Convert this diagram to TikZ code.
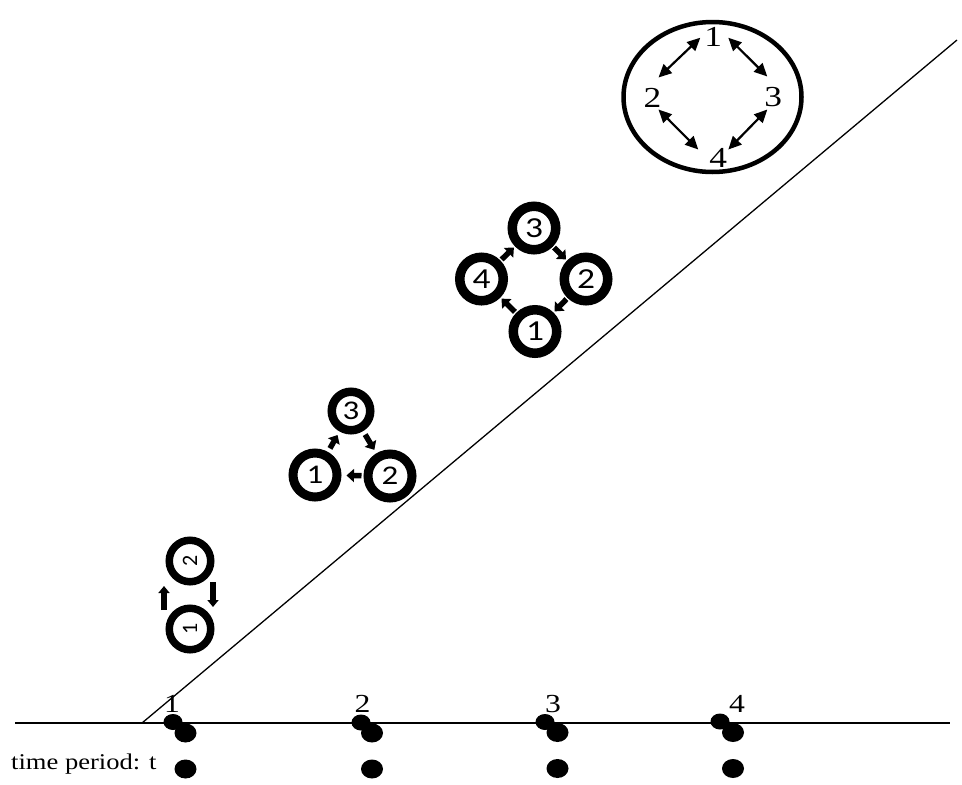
\documentclass[tikz,border=0pt]{standalone}
\usepackage{fontspec}
\setmainfont{Liberation Serif}
\newfontfamily\calibfont{Carlito}
\usetikzlibrary{arrows.meta,shapes.geometric,calc}
% horizontally widened glyphs
\newcommand\hstretch[1]{\scalebox{1.22}[1]{#1}}

\begin{document}
\begin{tikzpicture}[x=1pt,y=-1pt,
  axisline/.style={line width=1.3pt},
  tickdot/.style={ellipse, fill=black, inner sep=0pt},
  dotsmall/.style={tickdot, minimum width=19pt, minimum height=16pt},
  dotbig/.style={tickdot, minimum width=22pt, minimum height=19pt},
  ticklabel/.style={font=\fontsize{26}{28}\selectfont, inner sep=0pt},
  ring/.style={circle, draw, inner sep=0pt},
  ringone/.style={ring, line width=7.5pt, minimum size=41.5pt, font=\calibfont\fontsize{22}{24}\selectfont},
  ringtwo/.style={ring, line width=9pt, minimum size=44pt, font=\calibfont\fontsize{27}{29}\selectfont},
  ringtwotop/.style={ring, line width=8.5pt, minimum size=38.5pt, font=\calibfont\fontsize{27}{29}\selectfont},
  ringthree/.style={ring, line width=9.5pt, minimum size=43.5pt, font=\calibfont\fontsize{29}{31}\selectfont},
  blockarr/.style={line width=5.5pt, -{Triangle[width=13pt,length=7.5pt]}},
  slimblockarr/.style={line width=6pt, -{Triangle[width=11pt,length=7pt]}},
  biglabel/.style={font=\fontsize{29}{31}\selectfont, inner sep=0pt},
  dblarr/.style={line width=2.2pt, {Triangle[length=13pt,width=12pt]}-{Triangle[length=13pt,width=12pt]}}
]
\useasboundingbox (0,0) rectangle (962,785);

% time axis and growth line
\coordinate (axL) at (15,723);
\coordinate (axR) at (950,723);
\coordinate (dgA) at (142,723);
\coordinate (dgB) at (957,40);
\draw[axisline] (axL) -- (axR);
\draw[axisline] (dgA) -- (dgB);

% period labels
\node[ticklabel] (t1) at (172,704) {\hstretch{1}};
\node[ticklabel] (t2) at (362.5,703.5) {\hstretch{2}};
\node[ticklabel] (t3) at (553,704) {\hstretch{3}};
\node[ticklabel] (t4) at (737,704) {\hstretch{4}};

% period markers
\node[dotsmall] (d1a) at (173,722) {};
\node[dotbig]   (d1b) at (185.5,733) {};
\node[dotbig]   (d1c) at (185.5,769) {};
\node[dotsmall] (d2a) at (361,722.5) {};
\node[dotbig]   (d2b) at (372,733) {};
\node[dotbig]   (d2c) at (372,769) {};
\node[dotsmall] (d3a) at (545,722) {};
\node[dotbig]   (d3b) at (557.5,732.5) {};
\node[dotbig]   (d3c) at (557.5,768.5) {};
\node[dotsmall] (d4a) at (720,721.5) {};
\node[dotbig]   (d4b) at (733,732.5) {};
\node[dotbig]   (d4c) at (733,768.5) {};

\node[anchor=base west, inner sep=0pt, font=\fontsize{22.5}{25}\selectfont] (tlabel) at (11,769) {\scalebox{1.18}[1]{time period: t}};

% two members
\node[ringone] (g1c2) at (190,561) {\rotatebox{90}{2}};
\node[ringone] (g1c1) at (190,629) {\rotatebox{90}{1}};
\draw[slimblockarr] ([shift={(-26,-19)}]g1c1.center) -- ([shift={(-26,25)}]g1c2.center);
\draw[slimblockarr] ([shift={(23,21)}]g1c2.center) -- ([shift={(23,-22)}]g1c1.center);

% three members
\node[ringtwotop] (g2c3) at (351,411) {\hstretch{3}};
\node[ringtwo] (g2c1) at (315,475) {\hstretch{1}};
\node[ringtwo] (g2c2) at (390,476) {\hstretch{2}};
\draw[blockarr, shorten <=4pt, shorten >=4pt] (g2c3) -- (g2c2);
\draw[blockarr, shorten <=2pt, shorten >=5pt] (g2c2) -- (g2c1);
\draw[blockarr, shorten <=4pt, shorten >=4pt] (g2c1) -- (g2c3);

% four members
\node[ringthree] (g3c3) at (534,228) {\hstretch{3}};
\node[ringthree] (g3c4) at (481.5,279) {\hstretch{4}};
\node[ringthree] (g3c2) at (586,279) {\hstretch{2}};
\node[ringthree] (g3c1) at (535,331.5) {\hstretch{1}};
\draw[blockarr, shorten <=1.5pt, shorten >=1.5pt] (g3c3) -- (g3c2);
\draw[blockarr, shorten <=1.5pt, shorten >=1.5pt] (g3c2) -- (g3c1);
\draw[blockarr, shorten <=1.5pt, shorten >=1.5pt] (g3c1) -- (g3c4);
\draw[blockarr, shorten <=1.5pt, shorten >=1.5pt] (g3c4) -- (g3c3);

% fully connected group
\node[ellipse, draw, line width=4.5pt, minimum width=178pt, minimum height=150pt, inner sep=0pt] (bigring) at (712.5,97) {};
\node[biglabel] (g4n1) at (713.3,36.7) {\hstretch{1}};
\node[biglabel] (g4n2) at (652.5,97.5) {\hstretch{2}};
\node[biglabel] (g4n3) at (773.3,97.5) {\hstretch{3}};
\node[biglabel] (g4n4) at (718.3,157.5) {\hstretch{4}};
\draw[dblarr] ([shift={(-13,1)}]g4n1.center) -- ([shift={(6,-20)}]g4n2.center);
\draw[dblarr] ([shift={(15,1)}]g4n1.center) -- ([shift={(-6,-21)}]g4n3.center);
\draw[dblarr] ([shift={(6,12)}]g4n2.center) -- ([shift={(-20,-8)}]g4n4.center);
\draw[dblarr] ([shift={(-6,12)}]g4n3.center) -- ([shift={(10,-8)}]g4n4.center);
\end{tikzpicture}
\end{document}
